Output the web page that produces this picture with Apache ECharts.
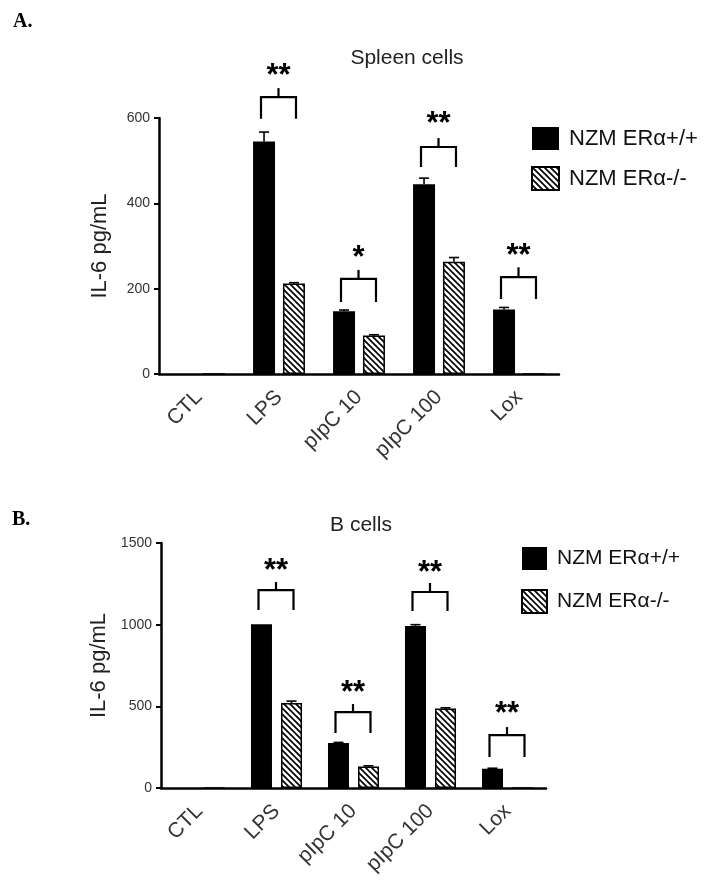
<!DOCTYPE html>
<html><head><meta charset="utf-8">
<script src="https://cdn.jsdelivr.net/npm/echarts@6/dist/echarts.min.js"></script>
<style>html,body{margin:0;padding:0;background:#fff}#c{width:704px;height:894px}</style>
</head><body><div id="c"></div>
<script>
const categories = ['CTL', 'LPS', 'pIpC 10', 'pIpC 100', 'Lox'];
const seriesNames = ['NZM ERα+/+', 'NZM ERα-/-'];
const spleenWT = [0, 545, 147, 445, 151];
const spleenWTErr = [0, 22, 3, 14, 5];
const spleenKO = [0, 212, 90, 263, 0];
const spleenKOErr = [0, 2, 2, 10, 0];
const spleenTicks = [0, 200, 400, 600];
const bcellWT = [0, 1002, 276, 992, 118];
const bcellWTErr = [0, 0, 3, 8, 3];
const bcellKO = [0, 520, 132, 486, 0];
const bcellKOErr = [0, 12, 4, 5, 0];
const bcellTicks = [0, 500, 1000, 1500];
// significance brackets: [category index, leg bottom, bracket level, tick top, star level]
const spleenSig = [[1, 598, 649, 670, 712], [2, 169, 223, 244, 284], [3, 485, 532, 553, 598], [4, 176, 227, 250, 290]];
const spleenStars = ['**', '*', '**', '**'];
const bcellSig = [[1, 1090, 1212, 1261, 1365], [2, 337, 465, 514, 618], [3, 1084, 1200, 1255, 1353], [4, 190, 324, 373, 484]];
const bcellStars = ['**', '**', '**', '**'];

const FONT = 'Liberation Sans, Arial, Helvetica, sans-serif';

function hatch() {
  const s = 6, cv = document.createElement('canvas');
  cv.width = s; cv.height = s;
  const ctx = cv.getContext('2d');
  ctx.fillStyle = '#fff'; ctx.fillRect(0, 0, s, s);
  ctx.strokeStyle = '#000'; ctx.lineWidth = 1.7;
  ctx.beginPath();
  ctx.moveTo(-1, -1); ctx.lineTo(s + 1, s + 1);
  ctx.moveTo(-1, s - 1); ctx.lineTo(1, s + 1);
  ctx.moveTo(s - 1, -1); ctx.lineTo(s + 1, 1);
  ctx.stroke();
  return {image: cv, repeat: 'repeat'};
}
const hatchFill = hatch();

function errorRender(offset) {
  return function (params, api) {
    const c = api.value(0), v = api.value(1), e = api.value(2);
    if (!e) return null;
    const p0 = api.coord([c, v]), p1 = api.coord([c, v + e]);
    const x = p0[0] + offset;
    return {type: 'group', children: [
      {type: 'line', shape: {x1: x, y1: p0[1], x2: x, y2: p1[1]}, style: {stroke: '#000', lineWidth: 1.6}},
      {type: 'line', shape: {x1: x - 5, y1: p1[1], x2: x + 5, y2: p1[1]}, style: {stroke: '#000', lineWidth: 1.6}}
    ]};
  };
}
function bracketRender(stars) {
  return function (params, api) {
    const c = api.value(0);
    const pb = api.coord([c, api.value(1)]), pl = api.coord([c, api.value(2)]);
    const pt = api.coord([c, api.value(3)]), ps = api.coord([c, api.value(4)]);
    const xl = pb[0] - 18, xr = pb[0] + 17, xm = (xl + xr) / 2;
    return {type: 'group', children: [
      {type: 'polyline', shape: {points: [[xl, pb[1]], [xl, pl[1]], [xr, pl[1]], [xr, pb[1]]]}, style: {stroke: '#000', lineWidth: 2.2, fill: null}},
      {type: 'line', shape: {x1: xm, y1: pl[1], x2: xm, y2: pt[1]}, style: {stroke: '#000', lineWidth: 2.2}},
      {type: 'text', x: xm, y: ps[1] + 6, style: {text: stars[params.dataIndex], fill: '#000', font: 'bold 31px ' + FONT, textAlign: 'center', textVerticalAlign: 'middle'}}
    ]};
  };
}

function xAxisCfg(gi) {
  return {type: 'category', gridIndex: gi, data: categories,
    axisLine: {lineStyle: {color: '#000', width: 2.5}},
    axisTick: {alignWithLabel: true, length: 6, lineStyle: {color: '#000', width: 2}},
    axisLabel: {rotate: 45, fontSize: 21, color: '#333', margin: 20, fontFamily: FONT}};
}
function yAxisCfg(gi, ticks) {
  return {type: 'value', gridIndex: gi, min: ticks[0], max: ticks[ticks.length - 1], interval: ticks[1] - ticks[0],
    splitLine: {show: false},
    axisLine: {show: true, lineStyle: {color: '#000', width: 2.5}},
    axisTick: {show: true, length: 5, lineStyle: {color: '#000', width: 2}},
    axisLabel: {fontSize: 14, color: '#333', margin: 9, fontFamily: FONT, formatter: v => String(v)},
    name: 'IL-6 pg/mL', nameLocation: 'middle', nameGap: 48,
    nameTextStyle: {fontSize: 22, color: '#222', fontFamily: FONT}};
}
function panelSeries(gi, wt, wtErr, ko, koErr, sig, stars, bw, gap) {
  const off = (bw + bw * gap / 100) / 2;
  return [
    {name: seriesNames[0], type: 'bar', xAxisIndex: gi, yAxisIndex: gi, data: wt, barWidth: bw, barGap: gap + '%',
      itemStyle: {color: '#000'}},
    {name: seriesNames[1], type: 'bar', xAxisIndex: gi, yAxisIndex: gi, data: ko, barWidth: bw, barGap: gap + '%',
      itemStyle: {color: hatchFill, borderColor: '#000', borderWidth: 1.5}},
    {type: 'custom', xAxisIndex: gi, yAxisIndex: gi, z: 5, clip: false, silent: true,
      data: wt.map((v, i) => [i, v, wtErr[i]]), renderItem: errorRender(-off)},
    {type: 'custom', xAxisIndex: gi, yAxisIndex: gi, z: 5, clip: false, silent: true,
      data: ko.map((v, i) => [i, v, koErr[i]]), renderItem: errorRender(off)},
    {type: 'custom', xAxisIndex: gi, yAxisIndex: gi, z: 5, clip: false, silent: true,
      data: sig, renderItem: bracketRender(stars)}
  ];
}

const chart = echarts.init(document.getElementById('c'), null, {renderer: 'canvas'});
chart.setOption({
  animation: false,
  backgroundColor: '#fff',
  grid: [
    {left: 159, top: 118, width: 400, height: 256},
    {left: 161, top: 543, width: 385, height: 245}
  ],
  xAxis: [xAxisCfg(0), xAxisCfg(1)],
  yAxis: [yAxisCfg(0, spleenTicks), yAxisCfg(1, bcellTicks)],
  legend: [
    {orient: 'vertical', left: 526, top: 122, itemWidth: 27, itemHeight: 23, itemGap: 16, icon: 'rect',
      selectedMode: false, data: seriesNames, textStyle: {fontSize: 22, color: '#111', fontFamily: FONT, padding: [0, 0, 0, 5]}},
    {orient: 'vertical', left: 516, top: 542, itemWidth: 25, itemHeight: 23, itemGap: 19, icon: 'rect',
      selectedMode: false, data: seriesNames, textStyle: {fontSize: 21, color: '#111', fontFamily: FONT, padding: [0, 0, 0, 5]}}
  ],
  graphic: [
    {type: 'text', left: 13, top: 12, style: {text: 'A.', font: 'bold 20px Liberation Serif, Times New Roman, serif', fill: '#000'}},
    {type: 'text', left: 12, top: 510, style: {text: 'B.', font: 'bold 20px Liberation Serif, Times New Roman, serif', fill: '#000'}},
    {type: 'text', x: 407, y: 58, style: {text: 'Spleen cells', font: '21px ' + FONT, fill: '#222', textAlign: 'center', textVerticalAlign: 'middle'}},
    {type: 'text', x: 361, y: 525, style: {text: 'B cells', font: '21px ' + FONT, fill: '#222', textAlign: 'center', textVerticalAlign: 'middle'}}
  ],
  series: [].concat(
    panelSeries(0, spleenWT, spleenWTErr, spleenKO, spleenKOErr, spleenSig, spleenStars, 22, 36),
    panelSeries(1, bcellWT, bcellWTErr, bcellKO, bcellKOErr, bcellSig, bcellStars, 21, 43)
  )
});
</script></body></html>
